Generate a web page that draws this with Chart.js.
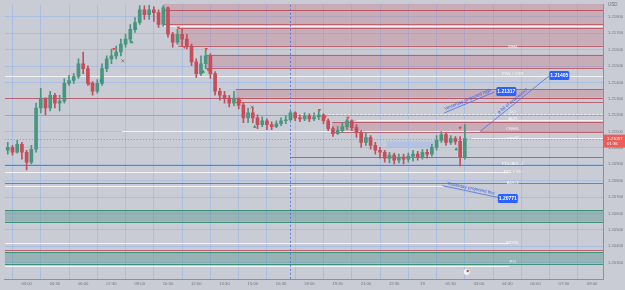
<!DOCTYPE html>
<html>
<head>
<meta charset="utf-8">
<script src="https://cdn.jsdelivr.net/npm/chart.js@4.4.0/dist/chart.umd.min.js"></script>
<style>
html, body { margin: 0; padding: 0; background: #c9ccd4; }
#chartContainer { width: 625px; height: 290px; }
</style>
</head>
<body>
<div id="chartContainer"><canvas id="myChart" width="625" height="290"></canvas></div>
<script>
// EURUSD 15m, od 02:00 (18) do 02:15 (19)
const startHour = 2;
const barHours = 0.25;

const opens = [
    1.20986, 1.21004, 1.20974, 1.21022, 1.20974, 1.20914, 1.20992, 1.21244, 1.21304, 1.21244,
    1.21322, 1.21274, 1.21286, 1.21394, 1.21412, 1.21436, 1.21514, 1.21484, 1.21394, 1.21346,
    1.21394, 1.21484, 1.21544, 1.21562, 1.21586, 1.21634, 1.21664, 1.21724, 1.21766, 1.21844,
    1.21814, 1.21844, 1.21826, 1.21754, 1.21856, 1.21694, 1.21646, 1.21694, 1.21664, 1.21622,
    1.21526, 1.21454, 1.21514, 1.21562, 1.21454, 1.21346, 1.21322, 1.21304, 1.21274, 1.21304,
    1.21262, 1.21184, 1.21214, 1.21184, 1.21142, 1.21166, 1.21142, 1.21130, 1.21148, 1.21166,
    1.21172, 1.21214, 1.21184, 1.21178, 1.21196, 1.21178, 1.21190, 1.21202, 1.21166, 1.21118,
    1.21088, 1.21106, 1.21130, 1.21166, 1.21124, 1.21094, 1.21034, 1.21064, 1.21016, 1.20986,
    1.20974, 1.20938, 1.20956, 1.20926, 1.20944, 1.20932, 1.20950, 1.20962, 1.20944, 1.20974,
    1.20962, 1.21004, 1.21046, 1.21082, 1.21034, 1.21058, 1.21040, 1.20944
];
const highs = [
    1.21034, 1.21016, 1.21046, 1.21034, 1.20986, 1.21016, 1.21274, 1.21364, 1.21304, 1.21346,
    1.21334, 1.21322, 1.21424, 1.21442, 1.21454, 1.21544, 1.21586, 1.21502, 1.21406, 1.21418,
    1.21514, 1.21562, 1.21604, 1.21622, 1.21664, 1.21694, 1.21754, 1.21796, 1.21870, 1.21868,
    1.21872, 1.21862, 1.21844, 1.21870, 1.21862, 1.21706, 1.21724, 1.21730, 1.21694, 1.21634,
    1.21544, 1.21562, 1.21598, 1.21574, 1.21466, 1.21364, 1.21346, 1.21322, 1.21346, 1.21304,
    1.21274, 1.21244, 1.21250, 1.21202, 1.21190, 1.21178, 1.21160, 1.21166, 1.21184, 1.21196,
    1.21226, 1.21220, 1.21202, 1.21214, 1.21208, 1.21214, 1.21226, 1.21208, 1.21178, 1.21130,
    1.21130, 1.21154, 1.21178, 1.21172, 1.21142, 1.21106, 1.21094, 1.21076, 1.21034, 1.21004,
    1.20986, 1.20974, 1.20968, 1.20962, 1.20962, 1.20968, 1.20986, 1.20980, 1.20992, 1.20992,
    1.21022, 1.21076, 1.21100, 1.21094, 1.21076, 1.21070, 1.21070, 1.21142
];
const lows = [
    1.20962, 1.20956, 1.20968, 1.20932, 1.20866, 1.20902, 1.20974, 1.21214, 1.21202, 1.21226,
    1.21244, 1.21226, 1.21274, 1.21382, 1.21394, 1.21424, 1.21454, 1.21382, 1.21322, 1.21334,
    1.21382, 1.21466, 1.21514, 1.21544, 1.21562, 1.21616, 1.21646, 1.21706, 1.21754, 1.21784,
    1.21784, 1.21772, 1.21736, 1.21742, 1.21676, 1.21616, 1.21634, 1.21622, 1.21604, 1.21502,
    1.21430, 1.21442, 1.21484, 1.21424, 1.21322, 1.21292, 1.21274, 1.21250, 1.21256, 1.21238,
    1.21154, 1.21154, 1.21154, 1.21118, 1.21130, 1.21112, 1.21112, 1.21124, 1.21136, 1.21148,
    1.21166, 1.21166, 1.21160, 1.21166, 1.21160, 1.21166, 1.21172, 1.21148, 1.21106, 1.21070,
    1.21082, 1.21094, 1.21112, 1.21106, 1.21064, 1.21004, 1.21016, 1.20992, 1.20962, 1.20938,
    1.20914, 1.20908, 1.20902, 1.20908, 1.20902, 1.20914, 1.20920, 1.20926, 1.20932, 1.20938,
    1.20950, 1.20986, 1.21034, 1.21016, 1.21022, 1.21022, 1.20890, 1.20932
];
const closes = [
    1.21004, 1.20974, 1.21022, 1.20974, 1.20914, 1.20992, 1.21244, 1.21304, 1.21244, 1.21322,
    1.21274, 1.21286, 1.21394, 1.21412, 1.21436, 1.21514, 1.21484, 1.21394, 1.21346, 1.21394,
    1.21484, 1.21544, 1.21562, 1.21586, 1.21634, 1.21664, 1.21724, 1.21766, 1.21844, 1.21814,
    1.21844, 1.21826, 1.21754, 1.21856, 1.21694, 1.21646, 1.21694, 1.21664, 1.21622, 1.21526,
    1.21454, 1.21514, 1.21562, 1.21454, 1.21346, 1.21322, 1.21304, 1.21274, 1.21304, 1.21262,
    1.21184, 1.21214, 1.21184, 1.21142, 1.21166, 1.21142, 1.21130, 1.21148, 1.21166, 1.21172,
    1.21214, 1.21184, 1.21178, 1.21196, 1.21178, 1.21190, 1.21202, 1.21166, 1.21118, 1.21088,
    1.21106, 1.21130, 1.21166, 1.21124, 1.21094, 1.21034, 1.21064, 1.21016, 1.20986, 1.20974,
    1.20938, 1.20956, 1.20926, 1.20944, 1.20932, 1.20950, 1.20962, 1.20944, 1.20974, 1.20962,
    1.21004, 1.21046, 1.21082, 1.21034, 1.21058, 1.21040, 1.20944, 1.21057
];
const lastPrice = 1.21057;
const lastTimer = '01:36';

// osie
const tickHours = [3, 4.5, 6, 7.5, 9, 10.5, 12, 13.5, 15, 16.5, 18, 19.5, 21, 22.5, 24, 25.5, 27, 28.5, 30, 31.5, 33];
const tickLabels = ['03:00', '04:30', '06:00', '07:30', '09:00', '10:30', '12:00', '13:30', '15:00', '16:30', '18:00',
    '19:30', '21:00', '22:30', '19', '01:30', '03:00', '04:30', '06:00', '07:30', '09:00'];
const axisStart = 1.842;
const axisEnd = 33.58;
const priceMin = 1.2020;
const priceMax = 1.21874;

// strefy i poziomy: [od godziny, cena gora, cena dol]
const supplyZones = [
    [10.26, 1.21880, 1.21840],
    [10.26, 1.21840, 1.21754],
    [11.05, 1.21730, 1.21624],
    [12.53, 1.21570, 1.21490],
    [14.10, 1.21358, 1.21308],
    [19.21, 1.21158, 1.21098]
];
const demandZones = [
    [axisStart, 1.20620, 1.20550],
    [axisStart, 1.20364, 1.20294]
];
const redLevels = [
    [axisStart, 1.21308],
    [14.10, 1.21278],
    [17.00, 1.20944],
    [axisStart, 1.20894],
    [axisStart, 1.20784],
    [axisStart, 1.20378]
];
const faintRedLevels = [[axisStart, 1.21202]];
const whiteLevels = [
    [10.26, axisEnd, 1.21745],
    [axisStart, axisEnd, 1.21442],
    [20.5, axisEnd, 1.21170],
    [8.05, 27.1, 1.21106],
    [26.6, axisEnd, 1.21060],
    [axisStart, 28.6, 1.20854],
    [axisStart, 25.16, 1.20770],
    [axisStart, 28.6, 1.20418],
    [axisStart, 28.6, 1.20280]
];
const dottedLevels = [[17.1, axisEnd, 1.21210]];
const sessionBreaks = [17.0];
const rangeBox = [22.1, 24.58, 1.21040, 1.21004];

const levelTagHour = 28.79;
const levelTags = ['WH4', 'PWL / CTR', 'DO', 'ADR', 'ONH/L', 'sow43', 'PDL/ADL-1', 'PDL / YD', 'ADL-1', 'WDR/L', 'PO'];
const levelTagPrices = [1.21618, 1.21454, 1.21220, 1.21175, 1.21115, 1.21064, 1.20902, 1.20857, 1.20785, 1.20422, 1.20302];

// linie trendu z opisami
const trendFrom = [[25.16, 1.21214], [27.05, 1.21100], [25.05, 1.20770]];
const trendTo = [[27.79, 1.21340], [30.74, 1.21442], [28.00, 1.20698]];
const trendNotes = ['Yesterday projected high', 'a bit of extension?', 'Yesterday projected low'];
const targetHours = [28.45, 31.26, 28.53];
const targetPrices = [1.21345, 1.21442, 1.20692];
const targetLabels = ['1.21317', '1.21405', '1.20771'];

// sygnaly
const sellMarks = [[7.63, 1.21604], [6.32, 1.21394], [11.05, 1.21736], [11.37, 1.21616], [12.53, 1.21604],
    [12.63, 1.21478], [14.32, 1.21286], [18.53, 1.21232], [18.84, 1.21190], [20.05, 1.21184], [26.0, 1.21124]];
const buyMarks = [[8.79, 1.21730], [8.58, 1.21646], [6.95, 1.21412], [12.37, 1.21466], [15.1, 1.21130], [25.79, 1.20992]];
const crossMarks = [[8.1, 1.21532], [14.95, 1.21250]];

document.addEventListener('DOMContentLoaded', function() {
    const ctx = document.getElementById('myChart').getContext('2d');

    const upColor = 'rgb(72, 150, 128)';
    const downColor = 'rgb(196, 78, 90)';
    const gridColor = 'rgba(156, 184, 232, 0.7)';
    const fontFamily = 'Liberation Sans';

    const hours = closes.map((c, i) => startHour + i * barHours);
    const candleColors = closes.map((c, i) => c >= opens[i] ? upColor : downColor);

    const toXY = p => ({ x: p[0], y: p[1] });

    function hline(c, x0, x1, yy) {
        const py = Math.round(yy) + 0.5;
        c.beginPath();
        c.moveTo(x0, py);
        c.lineTo(x1, py);
        c.stroke();
    }

    const overlays = {
        id: 'overlays',
        beforeDraw(chart) {
            const c = chart.ctx;
            c.save();
            c.fillStyle = '#c9ccd4';
            c.fillRect(0, 0, chart.width, chart.height);
            c.restore();
        },
        beforeDatasetsDraw(chart) {
            const c = chart.ctx;
            const a = chart.chartArea;
            const x = chart.scales.x, y = chart.scales.y;
            c.save();
            c.beginPath();
            c.rect(a.left, a.top, a.right - a.left, a.bottom - a.top);
            c.clip();
            c.lineWidth = 1;

            supplyZones.forEach(z => {
                const x0 = x.getPixelForValue(z[0]);
                const y0 = y.getPixelForValue(z[1]), y1 = y.getPixelForValue(z[2]);
                c.fillStyle = 'rgba(196, 104, 120, 0.3)';
                c.fillRect(x0, y0, a.right - x0, y1 - y0);
                c.strokeStyle = 'rgba(186, 82, 96, 0.85)';
                hline(c, x0, a.right, y0);
                hline(c, x0, a.right, y1);
            });
            demandZones.forEach(z => {
                const x0 = x.getPixelForValue(z[0]);
                const y0 = y.getPixelForValue(z[1]), y1 = y.getPixelForValue(z[2]);
                c.fillStyle = 'rgba(70, 140, 132, 0.38)';
                c.fillRect(x0, y0, a.right - x0, y1 - y0);
                c.strokeStyle = 'rgba(58, 140, 116, 0.95)';
                hline(c, x0, a.right, y0);
                hline(c, x0, a.right, y1);
            });

            c.strokeStyle = 'rgba(186, 82, 96, 0.85)';
            redLevels.forEach(l => hline(c, x.getPixelForValue(l[0]), a.right, y.getPixelForValue(l[1])));
            c.strokeStyle = 'rgba(190, 110, 120, 0.45)';
            faintRedLevels.forEach(l => hline(c, x.getPixelForValue(l[0]), a.right, y.getPixelForValue(l[1])));

            c.strokeStyle = 'rgba(244, 244, 248, 0.95)';
            whiteLevels.forEach(l => hline(c, x.getPixelForValue(l[0]), x.getPixelForValue(l[1]), y.getPixelForValue(l[2])));
            c.setLineDash([2, 2]);
            dottedLevels.forEach(l => hline(c, x.getPixelForValue(l[0]), x.getPixelForValue(l[1]), y.getPixelForValue(l[2])));

            // linia ceny
            c.strokeStyle = 'rgba(200, 80, 90, 0.6)';
            c.setLineDash([1, 2]);
            hline(c, a.left, a.right, y.getPixelForValue(lastPrice));

            // sesja
            c.strokeStyle = 'rgba(80, 110, 230, 0.85)';
            c.setLineDash([2, 2]);
            sessionBreaks.forEach(h => {
                const px = Math.round(x.getPixelForValue(h)) + 0.5;
                c.beginPath();
                c.moveTo(px, a.top);
                c.lineTo(px, a.bottom);
                c.stroke();
            });
            c.setLineDash([]);

            const bx0 = x.getPixelForValue(rangeBox[0]), bx1 = x.getPixelForValue(rangeBox[1]);
            const by0 = y.getPixelForValue(rangeBox[2]), by1 = y.getPixelForValue(rangeBox[3]);
            c.fillStyle = 'rgba(160, 185, 240, 0.55)';
            c.fillRect(bx0, by0, bx1 - bx0, by1 - by0);
            c.restore();
        },
        afterDatasetsDraw(chart) {
            const c = chart.ctx;
            const a = chart.chartArea;
            const x = chart.scales.x, y = chart.scales.y;
            c.save();

            // opisy poziomow
            c.font = '4.3px "' + fontFamily + '"';
            c.fillStyle = 'rgba(250, 250, 252, 0.95)';
            c.textAlign = 'center';
            c.textBaseline = 'middle';
            levelTags.forEach((t, i) => c.fillText(t, x.getPixelForValue(levelTagHour), y.getPixelForValue(levelTagPrices[i])));

            // opisy linii trendu
            c.fillStyle = 'rgb(52, 92, 225)';
            c.font = '4.6px "' + fontFamily + '"';
            trendNotes.forEach((t, i) => {
                const ax = x.getPixelForValue(trendFrom[i][0]), ay = y.getPixelForValue(trendFrom[i][1]);
                const bx = x.getPixelForValue(trendTo[i][0]), by = y.getPixelForValue(trendTo[i][1]);
                c.save();
                c.translate((ax + bx) / 2, (ay + by) / 2);
                c.rotate(Math.atan2(by - ay, bx - ax));
                c.textBaseline = 'bottom';
                c.fillText(t, 0, -1);
                c.restore();
            });

            // etykiety celow
            c.font = 'bold 5px "' + fontFamily + '"';
            targetLabels.forEach((t, i) => {
                const cx = x.getPixelForValue(targetHours[i]), cy = y.getPixelForValue(targetPrices[i]);
                c.fillStyle = 'rgb(41, 98, 255)';
                c.beginPath();
                c.roundRect(cx - 10, cy - 4.5, 20, 9, 1.5);
                c.fill();
                c.fillStyle = '#ffffff';
                c.textBaseline = 'middle';
                c.fillText(t, cx, cy + 0.3);
            });

            // ikonka zdarzenia
            const ix = x.getPixelForValue(26.35), iy = a.bottom - 7;
            c.fillStyle = '#f4f4f6';
            c.beginPath();
            c.arc(ix, iy, 3, 0, Math.PI * 2);
            c.fill();
            c.fillStyle = 'rgb(200, 70, 70)';
            c.beginPath();
            c.arc(ix + 1, iy - 1, 1.2, 0, Math.PI * 2);
            c.fill();

            // oś cen: waluta i aktualna cena
            c.font = '4.5px "' + fontFamily + '"';
            c.fillStyle = '#6e727c';
            c.textAlign = 'left';
            c.fillText('USD', a.right + 5, 5);

            const py = y.getPixelForValue(lastPrice);
            c.fillStyle = 'rgb(236, 92, 88)';
            c.fillRect(a.right, py - 4, chart.width - a.right, 13);
            c.fillStyle = '#ffffff';
            c.font = '4.3px "' + fontFamily + '"';
            c.fillText(lastPrice.toFixed(5), a.right + 4, py);
            c.fillText(lastTimer, a.right + 4, py + 5.5);
            c.restore();
        }
    };

    const data = {
        datasets: [
            {
                type: 'scatter',
                data: sellMarks.map(toXY),
                pointStyle: 'triangle',
                rotation: 180,
                radius: 2,
                backgroundColor: 'rgb(236, 70, 60)',
                borderWidth: 0,
                order: 1
            },
            {
                type: 'scatter',
                data: buyMarks.map(toXY),
                pointStyle: 'triangle',
                radius: 2,
                backgroundColor: 'rgb(40, 150, 115)',
                borderWidth: 0,
                order: 1
            },
            {
                type: 'scatter',
                data: crossMarks.map(toXY),
                pointStyle: 'crossRot',
                radius: 2,
                borderColor: 'rgb(120, 110, 120)',
                borderWidth: 0.8,
                order: 1
            },
            ...trendFrom.map((p, i) => ({
                type: 'line',
                data: [toXY(p), toXY(trendTo[i])],
                borderColor: 'rgb(70, 110, 235)',
                borderWidth: 0.8,
                pointRadius: 0,
                order: 2
            })),
            {
                type: 'bar',
                data: hours.map((h, i) => ({ x: h, y: [opens[i], closes[i]] })),
                backgroundColor: candleColors,
                barThickness: 3,
                minBarLength: 1,
                grouped: false,
                order: 3
            },
            {
                type: 'bar',
                data: hours.map((h, i) => ({ x: h, y: [lows[i], highs[i]] })),
                backgroundColor: candleColors,
                barThickness: 1,
                grouped: false,
                order: 4
            }
        ]
    };

    const options = {
        responsive: false,
        animation: false,
        devicePixelRatio: 1,
        layout: { padding: 0 },
        plugins: {
            legend: { display: false },
            tooltip: { enabled: false }
        },
        scales: {
            x: {
                type: 'linear',
                min: axisStart,
                max: axisEnd,
                offset: false,
                afterBuildTicks: function(axis) {
                    axis.ticks = tickHours.map(v => ({ value: v }));
                },
                afterFit: function(axis) {
                    axis.height = 11;
                    axis.paddingLeft = 0;
                    axis.paddingRight = 0;
                },
                ticks: {
                    callback: (v, i) => tickLabels[i],
                    autoSkip: false,
                    maxRotation: 0,
                    padding: 2,
                    color: '#72767f',
                    font: { size: 4.2, family: fontFamily }
                },
                grid: { color: gridColor, drawTicks: false },
                border: { color: '#8d9099' }
            },
            y: {
                type: 'linear',
                position: 'right',
                min: priceMin,
                max: priceMax,
                afterFit: function(axis) {
                    axis.width = 22;
                    axis.paddingTop = 0;
                    axis.paddingBottom = 0;
                },
                ticks: {
                    stepSize: 0.001,
                    padding: 5,
                    color: '#72767f',
                    font: { size: 4.2, family: fontFamily },
                    callback: function(v) {
                        const k = v * 1000;
                        if (Math.abs(k - Math.round(k)) > 1e-6 || v < 1.2025) return '';
                        return v.toFixed(5);
                    }
                },
                grid: {
                    drawTicks: false,
                    color: function(c) {
                        const k = c.tick.value * 1000;
                        return Math.abs(k - Math.round(k)) > 1e-6 ? 'rgba(0,0,0,0)' : gridColor;
                    }
                },
                border: { color: '#8d9099' }
            }
        }
    };

    const myChart = new Chart(ctx, {
        type: 'bar',
        data: data,
        options: options,
        plugins: [overlays]
    });
});
</script>
</body>
</html>
